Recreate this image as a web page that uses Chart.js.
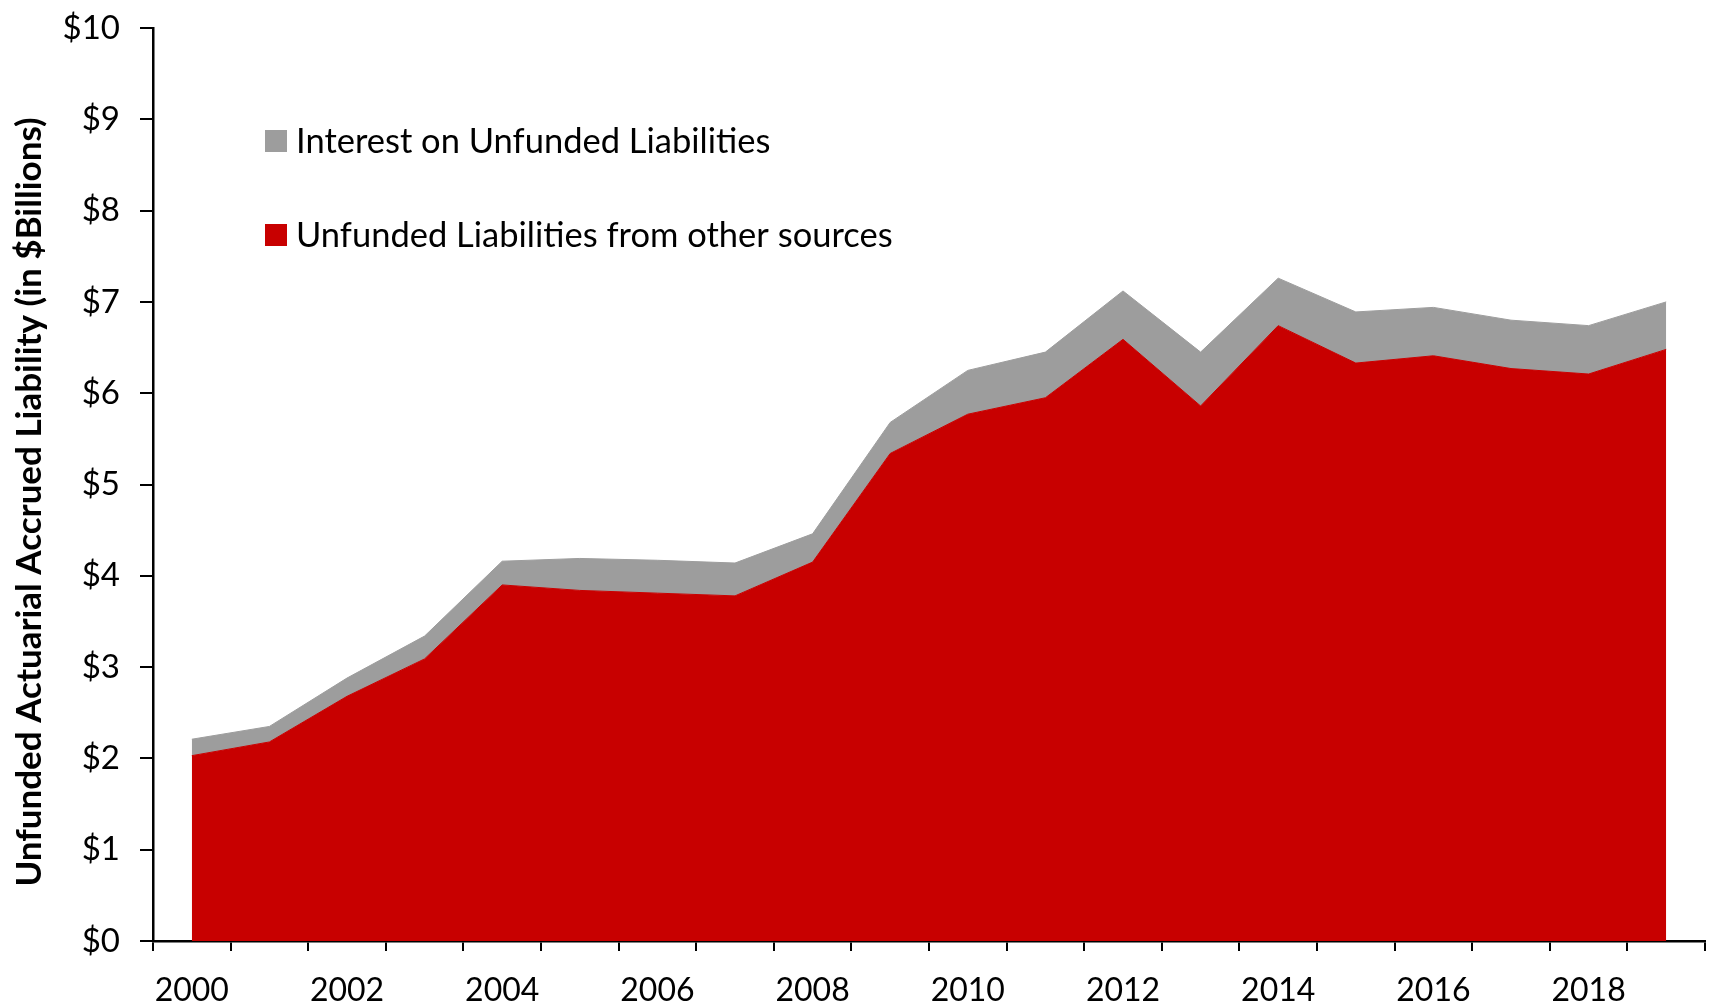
<!DOCTYPE html>
<html>
<head>
<meta charset="utf-8">
<script src="https://cdn.jsdelivr.net/npm/chart.js@4/dist/chart.umd.min.js"></script>
<style>
  html, body { margin: 0; padding: 0; background: #ffffff; }
  #wrap { width: 1711px; height: 1004px; position: relative; }
</style>
</head>
<body>
<div id="wrap"><canvas id="c" width="1711" height="1004"></canvas></div>
<script>
// Fiscal years on the x axis
const years = ['2000','2001','2002','2003','2004','2005','2006','2007','2008','2009',
               '2010','2011','2012','2013','2014','2015','2016','2017','2018','2019'];

// Unfunded liabilities from other sources ($ billions)
const otherSources = [2.03, 2.18, 2.68, 3.09, 3.90, 3.84, 3.81, 3.78, 4.15, 5.34,
                      5.77, 5.95, 6.59, 5.86, 6.74, 6.33, 6.41, 6.27, 6.21, 6.48];

// Interest on unfunded liabilities ($ billions), stacked on top
const interest = [0.18, 0.17, 0.20, 0.25, 0.26, 0.35, 0.36, 0.36, 0.31, 0.34,
                  0.48, 0.50, 0.53, 0.59, 0.52, 0.56, 0.53, 0.53, 0.53, 0.52];

// Y axis tick values
const yTicks = [0, 1, 2, 3, 4, 5, 6, 7, 8, 9, 10];

const yTitle = 'Unfunded Actuarial Accrued Liability (in $Billions)';

const RED = 'rgb(200,0,0)';
const GRAY = 'rgb(157,157,157)';
const FONT = 'Lato';

// Legend drawn inside the plot area, top-left
const insideLegend = {
  id: 'insideLegend',
  afterDraw(chart) {
    const ctx = chart.ctx;
    const items = [chart.data.datasets[1], chart.data.datasets[0]];
    const x0 = 265, rows = [141, 235], box = 22;
    ctx.save();
    ctx.font = '34.5px ' + FONT;
    ctx.textBaseline = 'middle';
    ctx.textAlign = 'left';
    items.forEach((ds, i) => {
      ctx.fillStyle = ds.backgroundColor;
      ctx.fillRect(x0, rows[i] - box / 2, box, box);
      ctx.fillStyle = '#000';
      ctx.fillText(ds.label, x0 + box + 9, rows[i] + 1);
    });
    ctx.restore();
  }
};

// Rotated y axis title
const sideTitle = {
  id: 'sideTitle',
  afterDraw(chart) {
    const ctx = chart.ctx;
    ctx.save();
    ctx.translate(30, 502);
    ctx.rotate(-Math.PI / 2);
    ctx.font = 'bold 35px ' + FONT;
    ctx.fillStyle = '#000';
    ctx.textAlign = 'center';
    ctx.textBaseline = 'middle';
    ctx.fillText(yTitle, 0, 0);
    ctx.restore();
  }
};

new Chart(document.getElementById('c'), {
  type: 'line',
  data: {
    labels: years,
    datasets: [
      {
        label: 'Unfunded Liabilities from other sources',
        data: otherSources,
        backgroundColor: RED,
        borderColor: RED,
        borderWidth: 1,
        pointRadius: 0,
        tension: 0,
        fill: 'origin'
      },
      {
        label: 'Interest on Unfunded Liabilities',
        data: interest,
        backgroundColor: GRAY,
        borderColor: GRAY,
        borderWidth: 1,
        pointRadius: 0,
        tension: 0,
        fill: '-1'
      }
    ]
  },
  options: {
    responsive: false,
    animation: false,
    layout: { padding: { left: 0, right: 6, top: 28, bottom: 0 } },
    plugins: {
      legend: { display: false },
      tooltip: { enabled: false }
    },
    scales: {
      x: {
        type: 'category',
        offset: true,
        grid: {
          offset: true,
          drawOnChartArea: false,
          drawTicks: true,
          tickLength: 10,
          color: '#000',
          lineWidth: 2
        },
        border: { color: '#000', width: 2.5 },
        ticks: {
          autoSkip: false,
          maxRotation: 0,
          minRotation: 0,
          padding: 20,
          color: '#000',
          font: { family: FONT, size: 32 },
          callback: function (v, i) { return i % 2 === 0 ? years[i] : ''; }
        },
        afterFit(scale) { scale.height = 63; }
      },
      y: {
        stacked: true,
        min: 0,
        max: 10,
        afterBuildTicks(scale) { scale.ticks = yTicks.map(v => ({ value: v })); },
        grid: {
          drawOnChartArea: false,
          drawTicks: true,
          tickLength: 13,
          color: '#000',
          lineWidth: 2
        },
        border: { color: '#000', width: 2.5 },
        ticks: {
          padding: 20,
          color: '#000',
          font: { family: FONT, size: 33 },
          callback: v => '$' + v
        },
        afterFit(scale) {
          scale.width = 153;
          scale.paddingTop = 0;
          scale.paddingBottom = 0;
        }
      }
    }
  },
  plugins: [insideLegend, sideTitle]
});
</script>
</body>
</html>
